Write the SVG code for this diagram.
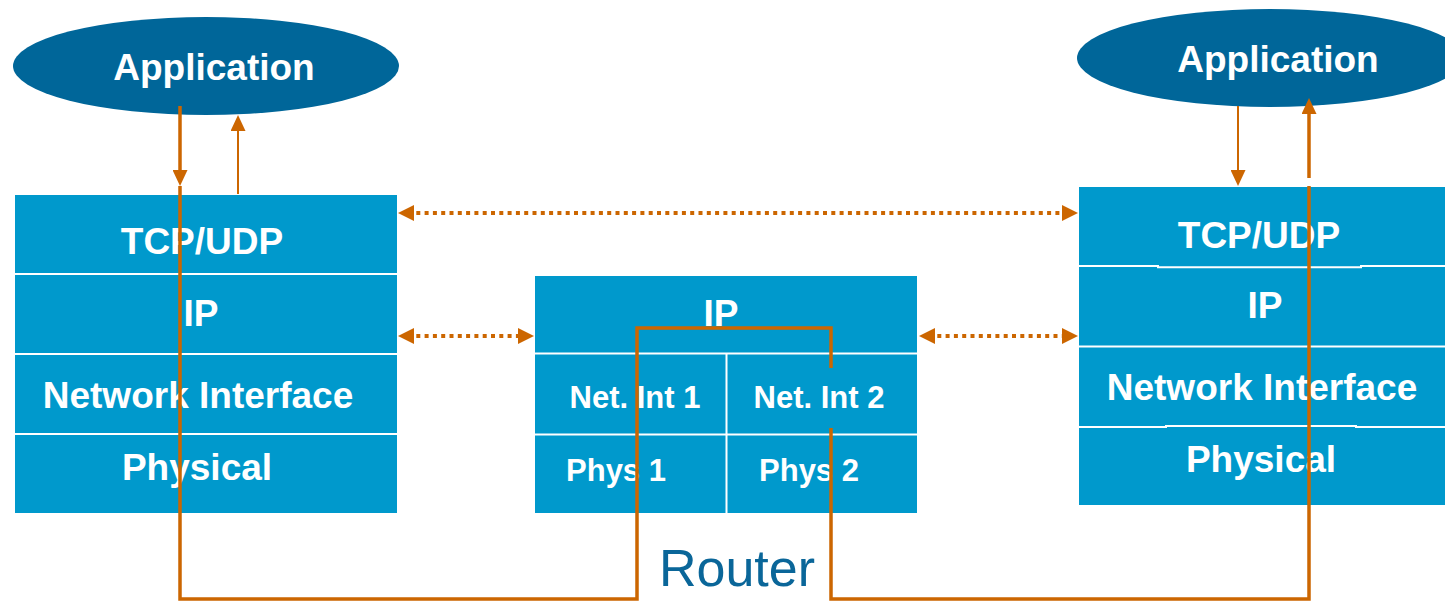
<svg xmlns="http://www.w3.org/2000/svg" width="1445" height="601" viewBox="0 0 1445 601">
  <defs>
    <!-- filled triangular head; tip sits 10px past the line end -->
    <marker id="head" markerUnits="userSpaceOnUse" markerWidth="16" markerHeight="15" refX="6" refY="7.5" orient="auto-start-reverse">
      <path d="M0,0 L16,7.5 L0,15 z" fill="#CC6600"/>
    </marker>
    <marker id="dothead" markerUnits="userSpaceOnUse" markerWidth="16" markerHeight="16" refX="6" refY="8" orient="auto-start-reverse">
      <path d="M0,0 L16,8 L0,16 z" fill="#CC6600"/>
    </marker>
  </defs>
  <style>
    .app { fill: #006699; }
    .layer { fill: #0099CC; }
    .sep { stroke: #FFFFFF; stroke-width: 2; fill: none; }
    .lbl { font-family: "Liberation Sans", Arial, sans-serif; font-weight: bold; fill: #FFFFFF; text-anchor: middle; }
    .big { font-size: 37px; }
    .small { font-size: 31px; }
    .route { stroke: #CC6600; stroke-width: 3.5; fill: none; stroke-linejoin: miter; }
    .thin { stroke: #CC6600; stroke-width: 2; fill: none; }
    .peer { stroke: #CC6600; stroke-width: 4; fill: none; stroke-dasharray: 4 4.3; }
    .caption { font-family: "Liberation Sans", Arial, sans-serif; font-size: 52px; fill: #0A6699; text-anchor: middle; }
  </style>

  <!-- left host application -->
  <g id="app-left">
    <ellipse class="app" cx="206" cy="66" rx="193" ry="49"/>
    <text class="lbl big" x="214" y="80">Application</text>
  </g>

  <!-- right host application -->
  <g id="app-right">
    <ellipse class="app" cx="1270" cy="58" rx="193" ry="49"/>
    <text class="lbl big" x="1278" y="72">Application</text>
  </g>

  <!-- left host protocol stack -->
  <g id="stack-left">
    <rect class="layer" x="15" y="195" width="382" height="318"/>
    <path class="sep" d="M15,274 H397 M15,354 H397 M15,434 H397"/>
    <text class="lbl big" x="202" y="254">TCP/UDP</text>
    <text class="lbl big" x="201" y="326">IP</text>
    <text class="lbl big" x="198" y="408">Network Interface</text>
    <text class="lbl big" x="197" y="480">Physical</text>
  </g>

  <!-- router stack -->
  <g id="router">
    <rect class="layer" x="535" y="276" width="382" height="237"/>
    <path class="sep" d="M535,353.5 H917 M535,434.5 H917 M726.5,354 V513"/>
    <text class="lbl big" x="721" y="326">IP</text>
    <text class="lbl small" x="635" y="408">Net. Int 1</text>
    <text class="lbl small" x="819" y="408">Net. Int 2</text>
    <text class="lbl small" x="616" y="481">Phys 1</text>
    <text class="lbl small" x="809" y="481">Phys 2</text>
    <text class="caption" x="737" y="586">Router</text>
  </g>

  <!-- right host protocol stack -->
  <g id="stack-right">
    <rect class="layer" x="1079" y="187" width="380" height="318"/>
    <path class="sep" d="M1079,266 H1158 V267.3 H1361 V266 H1445 M1079,346.5 H1445 M1079,427 H1166 V426 H1356 V427 H1445"/>
    <text class="lbl big" x="1259" y="248">TCP/UDP</text>
    <text class="lbl big" x="1265" y="318">IP</text>
    <text class="lbl big" x="1262" y="400">Network Interface</text>
    <text class="lbl big" x="1261" y="472">Physical</text>
  </g>

  <!-- connectors -->
  <g id="connectors">
    <!-- application to stack, left host -->
    <line class="route" x1="180" y1="106" x2="180" y2="176" marker-end="url(#head)"/>
    <line class="thin" x1="238" y1="194" x2="238" y2="125" marker-end="url(#head)"/>
    <!-- application to stack, right host -->
    <line class="thin" x1="1238" y1="106" x2="1238" y2="176" marker-end="url(#head)"/>
    <line class="route" x1="1309" y1="178" x2="1309" y2="108" marker-end="url(#head)"/>

    <!-- data path through the router -->
    <path class="route" d="M180,186 V599 H637 V328 H831 V368"/>
    <path class="route" d="M831,428 V599 H1309 V186"/>

    <!-- peer-layer exchanges -->
    <line class="peer" x1="408" y1="213" x2="1068" y2="213" marker-start="url(#dothead)" marker-end="url(#dothead)"/>
    <line class="peer" x1="408" y1="336" x2="524" y2="336" marker-start="url(#dothead)" marker-end="url(#dothead)"/>
    <line class="peer" x1="929" y1="336" x2="1068" y2="336" marker-start="url(#dothead)" marker-end="url(#dothead)"/>
  </g>
</svg>
